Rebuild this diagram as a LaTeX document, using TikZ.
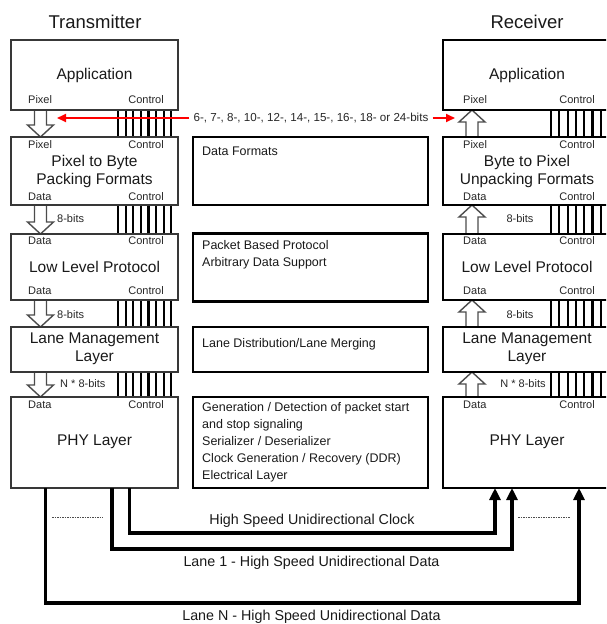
\documentclass[tikz,border=0pt]{standalone}
\usepackage{fontspec}
\setmainfont{Liberation Sans}
\usetikzlibrary{calc,arrows.meta}
\pgfdeclarelayer{bg}
\pgfsetlayers{bg,main}
\newcommand\pixdown[3]{\draw[hollow] let \p1=(#1.south west), \p2=(#2.north west) in
  (\x1+#3-6pt,\y1) -- (\x1+#3-6pt,\y2+12pt) -- (\x1+#3-13pt,\y2+12pt) -- (\x1+#3,\y2)
  -- (\x1+#3+13pt,\y2+12pt) -- (\x1+#3+6pt,\y2+12pt) -- (\x1+#3+6pt,\y1) -- cycle;}
\newcommand\pixup[3]{\draw[hollow] let \p1=(#1.north west), \p2=(#2.south west) in
  (\x1+#3-6pt,\y1) -- (\x1+#3-6pt,\y2-12pt) -- (\x1+#3-13pt,\y2-12pt) -- (\x1+#3,\y2)
  -- (\x1+#3+13pt,\y2-12pt) -- (\x1+#3+6pt,\y2-12pt) -- (\x1+#3+6pt,\y1) -- cycle;}
\newcommand\ctlbus[4]{\foreach \i in {0,...,7} {\draw[ctl] let \p1=(#1.south west), \p2=(#2.north west) in
  (\x1+#3+\i*#4,\y1) -- (\x1+#3+\i*#4,\y2);}}
\begin{document}
\begin{tikzpicture}[x=1pt,y=-1pt,
  tbox/.style={draw=black!78,line width=1.7pt,minimum width=167pt,outer sep=0pt,inner sep=0pt},
  rbox/.style={draw=black,line width=2.3pt,minimum width=168pt,outer sep=0pt,inner sep=0pt},
  mbox/.style={draw=black,line width=2.3pt,minimum width=235pt,outer sep=0pt,inner sep=0pt},
  head/.style={font=\fontsize{18.5}{20}\selectfont, text=black!90},
  title/.style={font=\fontsize{15.5}{18}\selectfont, align=center, text=black!90, inner sep=0pt},
  lbl/.style={font=\fontsize{11}{13}\selectfont, inner sep=0pt, text=black!85},
  mtxt/.style={font=\fontsize{12.5}{17}\selectfont, align=left, anchor=north west, inner sep=0pt, text=black!90},
  blbl/.style={font=\fontsize{14.3}{16}\selectfont, text=black!90},
  hollow/.style={draw=black!70, line width=1.4pt, fill=white, line join=miter},
  ctl/.style={black, line width=2.2pt},
  bus/.style={line width=3.5pt, -{Triangle[length=12pt,width=11pt]}},
  redarr/.style={red, line width=1.8pt, -{Triangle[length=9pt,width=8pt]}},
  dots/.style={black!70, line width=1pt, dash pattern=on 1.5pt off 1pt}
]
\useasboundingbox (0,0) rectangle (606,624);
\clip (0,0) rectangle (606,624);

% headers
\node[head] (htx) at (95,22) {Transmitter};
\node[head] (hrx) at (527,22) {Receiver};

% transmitter boxes
\node[tbox, minimum height=70pt] (tapp) at (94.5,75) {};
\node[tbox, minimum height=68pt] (tpbp) at (94.5,171) {};
\node[tbox, minimum height=66pt] (tllp) at (94.5,267) {};
\node[tbox, minimum height=45pt] (tlml) at (94.5,349.5) {};
\node[tbox, minimum height=91pt] (tphy) at (94.5,442.5) {};

% receiver boxes
\node[rbox, minimum height=70pt] (rapp) at (527,75) {};
\node[rbox, minimum height=68pt] (rpbp) at (527,171) {};
\node[rbox, minimum height=66pt] (rllp) at (527,267) {};
\node[rbox, minimum height=45pt] (rlml) at (527,349.5) {};
\node[rbox, minimum height=91pt] (rphy) at (527,442.5) {};

% middle boxes
\node[mbox, minimum height=68pt] (mdf) at (310.5,171) {};
\node[mbox, minimum height=68pt] (mllp) at (310.5,267.5) {};
\node[mbox, minimum height=45pt] (mlml) at (310.5,349.5) {};
\node[mbox, minimum height=91pt] (mphy) at (310.5,442.5) {};

% connectors between layers (behind boxes)
\begin{pgfonlayer}{bg}
\pixdown{tapp}{tpbp}{29.5pt}
\pixdown{tpbp}{tllp}{29.5pt}
\pixdown{tllp}{tlml}{29.5pt}
\pixdown{tlml}{tphy}{29.5pt}
\pixup{rpbp}{rapp}{29pt}
\pixup{rllp}{rpbp}{29pt}
\pixup{rlml}{rllp}{29pt}
\pixup{rphy}{rlml}{29pt}
\ctlbus{tapp}{tpbp}{107pt}{7.6pt}
\ctlbus{tpbp}{tllp}{107pt}{7.6pt}
\ctlbus{tllp}{tlml}{107pt}{7.6pt}
\ctlbus{tlml}{tphy}{107pt}{7.6pt}
\ctlbus{rapp}{rpbp}{108pt}{8.3pt}
\ctlbus{rpbp}{rllp}{108pt}{8.3pt}
\ctlbus{rllp}{rlml}{108pt}{8.3pt}
\ctlbus{rlml}{rphy}{108pt}{8.3pt}
\end{pgfonlayer}

% titles
\node[title] (ttapp) at (94.5,75) {Application};
\node[title] (ttpbp) at (94.5,171) {Pixel to Byte\\Packing Formats};
\node[title] (ttllp) at (94.5,267) {Low Level Protocol};
\node[title] (ttlml) at (94.5,349) {Lane Management\\Layer};
\node[title] (ttphy) at (94.5,442) {PHY Layer};
\node[title] (trapp) at (527,75) {Application};
\node[title] (trpbp) at (527,171) {Byte to Pixel\\Unpacking Formats};
\node[title] (trllp) at (527,267) {Low Level Protocol};
\node[title] (trlml) at (527,349) {Lane Management\\Layer};
\node[title] (trphy) at (527,442) {PHY Layer};

% small labels, transmitter
\node[lbl, anchor=west] (l1) at (28,100) {Pixel};
\node[lbl, anchor=east] (l2) at (164,100) {Control};
\node[lbl, anchor=west] (l3) at (28,145) {Pixel};
\node[lbl, anchor=east] (l4) at (164,145) {Control};
\node[lbl, anchor=west] (l5) at (28,197) {Data};
\node[lbl, anchor=east] (l6) at (164,197) {Control};
\node[lbl, anchor=west] (l7) at (28,241) {Data};
\node[lbl, anchor=east] (l8) at (164,241) {Control};
\node[lbl, anchor=west] (l9) at (28,291) {Data};
\node[lbl, anchor=east] (l10) at (164,291) {Control};
\node[lbl, anchor=west] (l11) at (28,405) {Data};
\node[lbl, anchor=east] (l12) at (164,405) {Control};
% small labels, receiver
\node[lbl, anchor=west] (r1) at (463,100) {Pixel};
\node[lbl, anchor=east] (r2) at (595,100) {Control};
\node[lbl, anchor=west] (r3) at (463,145) {Pixel};
\node[lbl, anchor=east] (r4) at (595,145) {Control};
\node[lbl, anchor=west] (r5) at (463,197) {Data};
\node[lbl, anchor=east] (r6) at (595,197) {Control};
\node[lbl, anchor=west] (r7) at (463,241) {Data};
\node[lbl, anchor=east] (r8) at (595,241) {Control};
\node[lbl, anchor=west] (r9) at (463,291) {Data};
\node[lbl, anchor=east] (r10) at (595,291) {Control};
\node[lbl, anchor=west] (r11) at (463,405) {Data};
\node[lbl, anchor=east] (r12) at (595,405) {Control};

% bit width labels
\node[lbl, anchor=west] (b1) at (57,219) {8-bits};
\node[lbl, anchor=west] (b2) at (57,315) {8-bits};
\node[lbl, anchor=west] (b3) at (60,384) {N * 8-bits};
\node[lbl] (b4) at (520,219) {8-bits};
\node[lbl] (b5) at (520,315) {8-bits};
\node[lbl] (b6) at (523,384) {N * 8-bits};

% middle texts
\node[mtxt] (md1) at (202,146.4) {Data Formats};
\node[mtxt] (md2) at (202,240.4) {Packet Based Protocol\\Arbitrary Data Support};
\node[mtxt] (md3) at (202,338.4) {Lane Distribution/Lane Merging};
\node[mtxt] (md4) at (202,402.4) {Generation / Detection of packet start\\and stop signaling\\Serializer / Deserializer\\Clock Generation / Recovery (DDR)\\Electrical Layer};

% red bit-width arrow
\node[lbl, inner sep=4pt, font=\fontsize{11.6}{13}\selectfont] (bits) at (311,118) {6-, 7-, 8-, 10-, 12-, 14-, 15-, 16-, 18- or 24-bits};
\coordinate (redL) at (57,118);
\coordinate (redR) at (455,118);
\draw[redarr] (bits.west) -- (redL);
\draw[redarr] (bits.east) -- (redR);

% high speed links
\draw[bus] ($(tphy.south west)+(118.5,0)$) -- ++(0,45) -| ($(rphy.south west)+(52,0)$);
\draw[bus] ($(tphy.south west)+(101,0)$) -- ++(0,61) -| ($(rphy.south west)+(69,0)$);
\draw[bus] ($(tphy.south west)+(34.6,0)$) -- ++(0,115) -| ($(rphy.south west)+(136,0)$);

\coordinate (d1a) at (52,517); \coordinate (d1b) at (103,517);
\coordinate (d2a) at (518,517); \coordinate (d2b) at (570,517);
\draw[dots] (d1a) -- (d1b);
\draw[dots] (d2a) -- (d2b);

\node[blbl] (clk) at (312,521) {High Speed Unidirectional Clock};
\node[blbl] (ln1) at (311.5,563) {Lane 1 - High Speed Unidirectional Data};
\node[blbl] (lnN) at (311.5,617) {Lane N - High Speed Unidirectional Data};
\end{tikzpicture}
\end{document}
